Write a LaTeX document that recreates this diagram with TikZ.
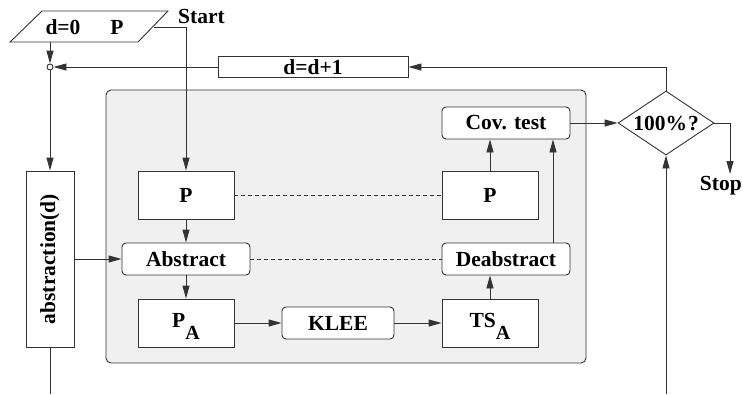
\documentclass[tikz,border=0pt]{standalone}
\usepackage{fontspec}
\setmainfont{Liberation Serif}
\usetikzlibrary{arrows.meta,shapes.geometric}
\definecolor{panel}{HTML}{F0F0F0}
\definecolor{ln}{HTML}{333333}
\begin{document}
\begin{tikzpicture}[x=1pt,y=-1pt,
  font=\fontsize{21.5}{24}\selectfont\bfseries,
  ln/.style={line width=0.9pt,draw=ln},
  arr/.style={ln,-{Triangle[length=13pt,width=7pt]}},
  sq/.style={draw=ln,fill=white,line width=0.9pt,inner sep=0pt},
  rd/.style={draw=ln,fill=white,line width=0.9pt,inner sep=0pt,rounded corners=4pt},
  dsh/.style={ln,dash pattern=on 4pt off 3pt},
  txt/.style={inner sep=0pt}]
\useasboundingbox (0,0) rectangle (743,394);
% panel
\draw[ln,fill=panel,rounded corners=5pt] (106,90) rectangle (586,363);
% input parallelogram
\draw[ln,fill=white] (42,11) -- (168,11) -- (138,42) -- (10,42) -- cycle;
\node[txt] (d0) at (63,27) {d=0};
\node[txt] (pin) at (117,27) {P};
\node[txt,anchor=west] (start) at (178,16) {Start};
\coordinate (pout) at (154,27);
\coordinate (pbot) at (50,42);
% junction
\node[circle,draw=ln,fill=white,line width=0.9pt,inner sep=0pt,minimum size=6pt] (junc) at (50,67) {};
% boxes
\node[sq,minimum width=190pt,minimum height=21pt] (inc) at (313,67) {d=d+1};
\node[diamond,aspect=1.5,draw=ln,fill=white,line width=0.9pt,inner sep=0pt,minimum width=96pt,minimum height=64pt] (dec) at (666,123) {100\%\kern1pt?};
\node[rd,minimum width=128pt,minimum height=32pt] (cov) at (506,123) {Cov. test};
\node[sq,minimum width=48pt,minimum height=176pt] (abs) at (50,259) {};
\node[txt,rotate=90] (abslbl) at (50,259) {abstraction(d)};
\node[sq,minimum width=96pt,minimum height=48pt] (p1) at (186,195) {P};
\node[rd,minimum width=128pt,minimum height=32pt] (abstract) at (186,259) {Abstract};
\node[sq,minimum width=96pt,minimum height=48pt] (pa) at (186,323) {};
\node[txt] (palbl) at (186,326) {P\raisebox{-12pt}{\fontsize{20}{20}\selectfont A}};
\node[rd,minimum width=112pt,minimum height=32pt] (klee) at (338,323) {KLEE};
\node[sq,minimum width=96pt,minimum height=48pt] (tsa) at (490,323) {};
\node[txt] (tsalbl) at (490,326) {TS\raisebox{-12pt}{\fontsize{20}{20}\selectfont A}};
\node[rd,minimum width=128pt,minimum height=32pt] (deabs) at (506,259) {Deabstract};
\node[sq,minimum width=96pt,minimum height=48pt] (p2) at (490,195) {P};
\node[txt,anchor=east] (stop) at (742,186) {Stop};
\coordinate (stoptop) at (730,174);
\coordinate (absbot) at (50,394);
\coordinate (decin) at (666,394);
% connectors
\draw[arr] (pbot) -- (junc);
\draw[arr] (inc.west) -- (junc);
\draw[arr] (dec.north) |- (inc.east);
\draw[arr] (junc) -- (abs.north);
\draw[ln] (abs.south) -- (absbot);
\draw[arr] (abs.east) -- (abstract.west);
\draw[arr] (pout) -| (p1.north);
\draw[arr] (p1) -- (abstract);
\draw[arr] (abstract) -- (pa);
\draw[arr] (pa) -- (klee);
\draw[arr] (klee) -- (tsa);
\draw[arr] (tsa) -- (deabs.south -| tsa);
\draw[arr] (deabs.north -| 553,0) -- (cov.south -| 553,0);
\draw[arr] (p2) -- (cov.south -| p2);
\draw[arr] (cov) -- (dec);
\draw[arr] (dec.east) -| (stoptop);
\draw[arr] (decin) -- (dec.south);
\draw[dsh] (p1) -- (p2);
\draw[dsh] (abstract) -- (deabs);
\end{tikzpicture}
\end{document}
